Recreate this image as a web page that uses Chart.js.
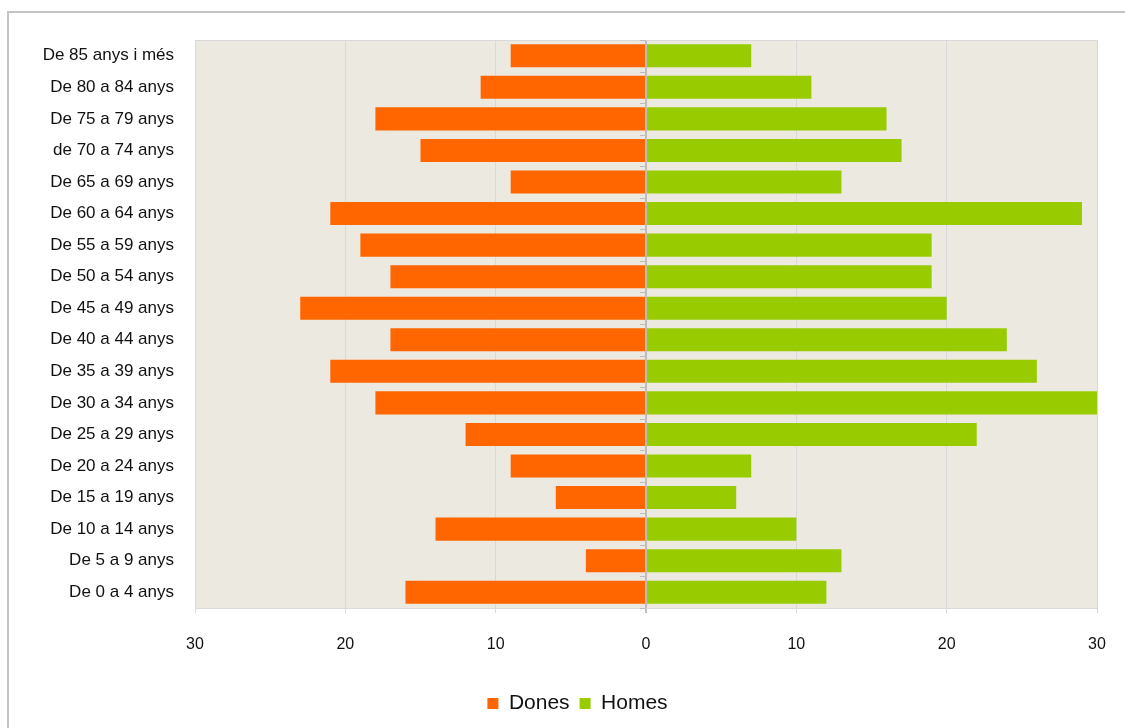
<!DOCTYPE html>
<html>
<head>
<meta charset="utf-8">
<script src="https://cdn.jsdelivr.net/npm/chart.js@4.4.0/dist/chart.umd.min.js"></script>
<style>
  body { margin: 0; background: #fff; overflow: hidden; }
  #frame { position: absolute; left: 7px; top: 11px; width: 1140px; height: 740px; border: 2px solid #c4c4c4; }
  #wrap { position: absolute; left: 0; top: 0; width: 1125px; height: 728px; }
</style>
</head>
<body>
<div id="frame"></div>
<div id="wrap"><canvas id="pyr"></canvas></div>
<script>
// age groups, top to bottom
var groups = ["De 85 anys i més", "De 80 a 84 anys", "De 75 a 79 anys", "de 70 a 74 anys",
  "De 65 a 69 anys", "De 60 a 64 anys", "De 55 a 59 anys", "De 50 a 54 anys",
  "De 45 a 49 anys", "De 40 a 44 anys", "De 35 a 39 anys", "De 30 a 34 anys",
  "De 25 a 29 anys", "De 20 a 24 anys", "De 15 a 19 anys", "De 10 a 14 anys",
  "De 5 a 9 anys", "De 0 a 4 anys"];
var dones = [9, 11, 18, 15, 9, 21, 19, 17, 23, 17, 21, 18, 12, 9, 6, 14, 4, 16];
var homes = [7, 11, 16, 17, 13, 29, 19, 19, 20, 24, 26, 30, 22, 7, 6, 10, 13, 12];
var xTicks = [-30, -20, -10, 0, 10, 20, 30];

var labelFont = "'Liberation Sans', Arial, sans-serif";

// plot background, frame and the little tick marks on the zero axis
var plotDeco = {
  id: 'plotDeco',
  afterLayout: function(chart) {
    // legend sits a bit right of the canvas centre in the original
    chart.legend.left += 29;
    chart.legend.right += 29;
  },
  beforeDraw: function(chart) {
    var a = chart.chartArea, c = chart.ctx;
    c.save();
    c.fillStyle = '#ece9e0';
    c.fillRect(a.left, a.top, a.right - a.left, a.bottom - a.top);
    c.restore();
  },
  afterDraw: function(chart) {
    var a = chart.chartArea, c = chart.ctx;
    var xs = chart.scales.x, ys = chart.scales.y;
    var x0 = xs.getPixelForValue(0);
    c.save();
    c.strokeStyle = '#d9d9d9';
    c.lineWidth = 1;
    c.beginPath();
    c.moveTo(a.left, a.top + 0.5); c.lineTo(a.right, a.top + 0.5);
    c.stroke();
    c.strokeStyle = '#bdbdbd';
    var n = groups.length;
    for (var i = 0; i <= n; i++) {
      var y;
      if (i === 0) y = a.top;
      else if (i === n) y = a.bottom;
      else y = (ys.getPixelForValue(i - 1) + ys.getPixelForValue(i)) / 2;
      c.beginPath();
      c.moveTo(x0 - 6, Math.round(y) + 0.5);
      c.lineTo(x0, Math.round(y) + 0.5);
      c.stroke();
    }
    c.restore();
  }
};

new Chart(document.getElementById('pyr'), {
  type: 'bar',
  data: {
    labels: groups,
    datasets: [{
      label: 'Dones',
      data: dones.map(function(v) { return -v; }),
      backgroundColor: '#ff6600',
      barPercentage: 0.73,
      categoryPercentage: 1
    }, {
      label: 'Homes',
      data: homes,
      backgroundColor: '#99cc00',
      barPercentage: 0.73,
      categoryPercentage: 1
    }]
  },
  options: {
    indexAxis: 'y',
    responsive: true,
    maintainAspectRatio: false,
    animation: false,
    layout: { padding: { top: 40, right: 28, left: 0, bottom: 4 } },
    plugins: {
      tooltip: { enabled: false },
      legend: {
        position: 'bottom',
        labels: {
          boxWidth: 11,
          boxHeight: 11,
          padding: 10,
          color: '#111',
          font: { family: labelFont, size: 21 }
        }
      }
    },
    scales: {
      x: {
        stacked: true,
        min: -30,
        max: 30,
        afterBuildTicks: function(scale) {
          scale.ticks = xTicks.map(function(v) { return { value: v }; });
        },
        afterFit: function(scale) {
          scale.height = 75;
          scale.paddingLeft = 0;
          scale.paddingRight = 0;
        },
        ticks: {
          color: '#111',
          padding: 22,
          font: { family: labelFont, size: 16 },
          callback: function(v) { return Math.abs(v); }
        },
        grid: {
          color: function(ctx) { return ctx.tick && ctx.tick.value === 0 ? '#bdbdbd' : '#d9d9d9'; },
          lineWidth: function(ctx) { return ctx.tick && ctx.tick.value === 0 ? 2 : 1; },
          tickLength: 5
        },
        border: { color: '#d9d9d9' }
      },
      y: {
        stacked: true,
        afterFit: function(scale) { scale.width = 195; },
        ticks: {
          color: '#111',
          padding: 21,
          font: { family: labelFont, size: 17 }
        },
        grid: { display: false, drawTicks: false },
        border: { display: false }
      }
    }
  },
  plugins: [plotDeco]
});
</script>
</body>
</html>
